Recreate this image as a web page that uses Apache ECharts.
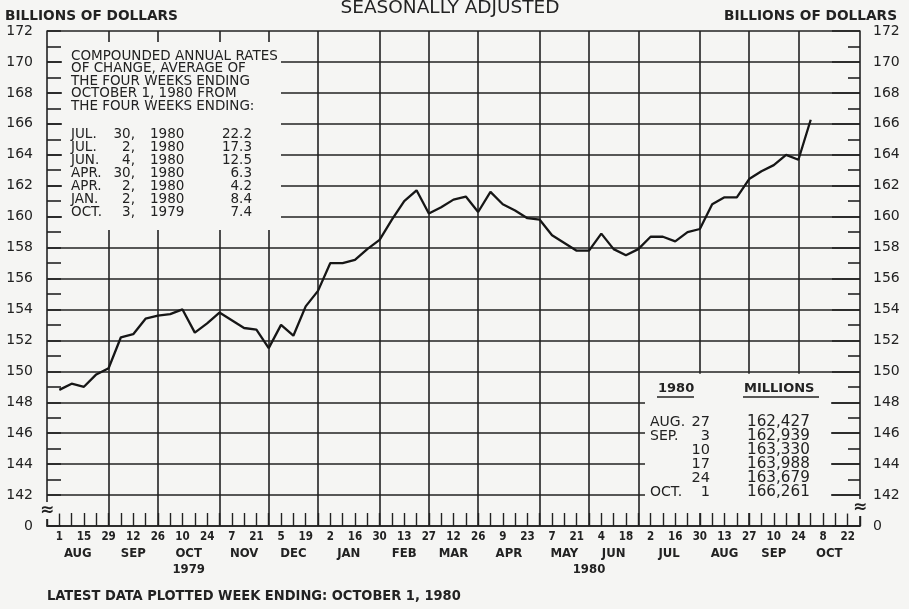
<!DOCTYPE html>
<html><head><meta charset="utf-8">
<script src="https://cdn.jsdelivr.net/npm/echarts@6/dist/echarts.min.js"></script>
<style>html,body{margin:0;padding:0;background:#f5f5f3}#c{width:909px;height:609px}</style>
</head><body><div id="c"></div>
<script>
// Weekly dates (weeks ending Wednesday), index 0 = left edge, 66 = right edge
const weeks = [
 '1979-07-25','1979-08-01','1979-08-08','1979-08-15','1979-08-22','1979-08-29',
 '1979-09-05','1979-09-12','1979-09-19','1979-09-26',
 '1979-10-03','1979-10-10','1979-10-17','1979-10-24','1979-10-31',
 '1979-11-07','1979-11-14','1979-11-21','1979-11-28',
 '1979-12-05','1979-12-12','1979-12-19','1979-12-26',
 '1980-01-02','1980-01-09','1980-01-16','1980-01-23','1980-01-30',
 '1980-02-06','1980-02-13','1980-02-20','1980-02-27',
 '1980-03-05','1980-03-12','1980-03-19','1980-03-26',
 '1980-04-02','1980-04-09','1980-04-16','1980-04-23','1980-04-30',
 '1980-05-07','1980-05-14','1980-05-21','1980-05-28',
 '1980-06-04','1980-06-11','1980-06-18','1980-06-25',
 '1980-07-02','1980-07-09','1980-07-16','1980-07-23','1980-07-30',
 '1980-08-06','1980-08-13','1980-08-20','1980-08-27',
 '1980-09-03','1980-09-10','1980-09-17','1980-09-24',
 '1980-10-01','1980-10-08','1980-10-15','1980-10-22','1980-10-29'
];
// Billions of dollars, weeks ending 1979-08-01 .. 1980-10-01
const moneyStock = [
 148.8,149.2,149.0,149.8,150.2,152.2,152.4,153.4,153.6,153.7,
 154.0,152.5,153.1,153.8,153.3,152.8,152.7,151.5,153.0,152.3,
 154.2,155.2,157.0,157.0,157.2,157.9,158.5,159.8,161.0,161.7,
 160.2,160.6,161.1,161.3,160.3,161.6,160.8,160.4,159.9,159.8,
 158.8,158.3,157.8,157.8,158.9,157.9,157.5,157.9,158.7,158.7,
 158.4,159.0,159.2,160.8,161.25,161.25,
 162.427,162.939,163.330,163.988,163.679,166.261
];
const monthEndIdx = [5,9,14,18,22,27,31,35,40,44,48,53,57,61];
const monthBounds = [0,5,9,14,18,22,27,31,35,40,44,48,53,57,61,66];
const monthNames = ['AUG','SEP','OCT','NOV','DEC','JAN','FEB','MAR','APR','MAY','JUN','JUL','AUG','SEP','OCT'];
const yearLabels = [['1979', 9, 14], ['1980', 44, 44]];
const yTicks = {min:140, max:172, step:2};

const rateHeader = ['COMPOUNDED ANNUAL RATES','OF CHANGE, AVERAGE OF','THE FOUR WEEKS ENDING','OCTOBER 1, 1980 FROM','THE FOUR WEEKS ENDING:'];
const rateMonths = ['JUL.','JUL.','JUN.','APR.','APR.','JAN.','OCT.'];
const rateDays = ['30,','2,','4,','30,','2,','2,','3,'];
const rateYears = ['1980','1980','1980','1980','1980','1980','1979'];
const rateValues = ['22.2','17.3','12.5','6.3','4.2','8.4','7.4'];

const tableMonths = ['AUG.','SEP.','','','','OCT.'];
const tableDays = ['27','3','10','17','24','1'];
const tableValues = ['162,427','162,939','163,330','163,988','163,679','166,261'];

const BG = '#f5f5f3';
const INK = '#222';
const F = '"DejaVu Sans", sans-serif';
const FC = '"DejaVu Sans Condensed", "DejaVu Sans", sans-serif';

const chart = echarts.init(document.getElementById('c'), null, {renderer:'canvas'});
const lineW = 1.6;
function yAxisCfg(pos, tickLen, minorLen, split) {
  return {
    type:'value', position:pos, min:yTicks.min, max:yTicks.max, interval:yTicks.step,
    axisLine:{show:true, lineStyle:{color:INK, width:lineW}},
    axisTick:{show:true, inside:true, length:tickLen, lineStyle:{color:INK, width:lineW}},
    minorTick:{show:true, splitNumber:2, length:minorLen, lineStyle:{color:INK, width:lineW}},
    minorSplitLine:{show:false},
    splitLine:{show:split, lineStyle:{color:INK, width:lineW}},
    axisLabel:{margin:pos==='left'?14:13, fontSize:14, fontFamily:F, color:INK,
      formatter:v => v === yTicks.min ? '0' : String(v)}
  };
}
const option = {
  backgroundColor: BG,
  animation:false,
  grid:{left:47, right:49, top:31, bottom:83, show:false},
  xAxis:[{
    type:'category', data:weeks, boundaryGap:false,
    axisLine:{show:true, lineStyle:{color:INK, width:lineW}},
    axisTick:{show:true, inside:true, length:13, interval:0, lineStyle:{color:INK, width:1.4}},
    axisLabel:{interval:(i) => i % 2 === 1, margin:5, fontSize:11.5, fontWeight:'bold', fontFamily:FC, color:INK,
      formatter:v => String(parseInt(v.slice(8), 10))},
    splitLine:{show:true, interval:(i) => monthEndIdx.indexOf(i) >= 0, lineStyle:{color:INK, width:lineW}}
  }],
  yAxis:[yAxisCfg('left', 14, 14, true), yAxisCfg('right', 28, 12, false)],
  series:[{
    type:'line', data:[null].concat(moneyStock), symbol:'none', z:3,
    lineStyle:{color:'#161616', width:2.3}
  }]
};
chart.setOption(option);

const px = i => chart.convertToPixel({xAxisIndex:0}, i);
const py = v => chart.convertToPixel({yAxisIndex:0}, v);
const x0 = px(0), x1 = px(66), yTop = py(172), yBot = py(140);

const g = [];
function txt(x, y, s, o) {
  g.push(Object.assign({type:'text', x:x, y:y, z:5, silent:true,
    style:Object.assign({text:s, fill:INK, font:'13.5px ' + F, textAlign:'left', textVerticalAlign:'middle'}, o || {})}));
}
function rect(x, y, w, h) {
  g.push({type:'rect', z:1, silent:true, shape:{x:x, y:y, width:w, height:h}, style:{fill:BG}});
}
// cut-out areas of grid
rect(x0 + 15, yTop + 11, 281 - (x0 + 15), 230 - (yTop + 11));
rect(645, py(150) + 2.5, (x1 - 29) - 645, (yBot - 13) - (py(150) + 2.5));
// break symbols
rect(x0 + 1, py(141) - 3, 15, 6);
rect(x1 - 14, py(141) - 3, 13.5, 6);
txt(x0, py(141), '\u2248', {font:'bold 17px ' + F, textAlign:'center', backgroundColor:BG});
txt(x1, py(141) - 3, '\u2248', {font:'bold 17px ' + F, textAlign:'center', backgroundColor:BG});

// titles
txt(450, 8, 'SEASONALLY ADJUSTED', {font:'18.5px ' + F, textAlign:'center'});
txt(5, 16, 'BILLIONS OF DOLLARS', {font:'bold 13.7px ' + F});
txt(897, 16, 'BILLIONS OF DOLLARS', {font:'bold 13.7px ' + F, textAlign:'right'});

// top-left box
rateHeader.forEach((s, i) => txt(71, 56 + i * 12.5, s));
rateMonths.forEach((s, i) => {
  const y = 134 + i * 13;
  txt(71, y, s);
  txt(135, y, rateDays[i], {textAlign:'right'});
  txt(150, y, rateYears[i]);
  txt(252, y, rateValues[i], {textAlign:'right'});
});

// lower-right table
txt(658, 389, '1980', {font:'bold 13px ' + F});
txt(744, 389, 'MILLIONS', {font:'bold 13px ' + F});
g.push({type:'line', z:5, silent:true, shape:{x1:657, y1:397, x2:694, y2:397}, style:{stroke:INK, lineWidth:1.3}});
g.push({type:'line', z:5, silent:true, shape:{x1:743, y1:397, x2:819, y2:397}, style:{stroke:INK, lineWidth:1.3}});
tableDays.forEach((s, i) => {
  const y = 422 + i * 14;
  if (tableMonths[i]) txt(650, y, tableMonths[i], {font:'14px ' + F});
  txt(710, y, s, {font:'14.5px ' + F, textAlign:'right'});
  txt(747, y, tableValues[i], {font:'15.2px ' + F});
});

// month + year labels
monthNames.forEach((m, i) => {
  const cx = (px(monthBounds[i]) + px(monthBounds[i + 1])) / 2;
  txt(cx, yBot + 28, m, {font:'bold 13px ' + FC, textAlign:'center'});
});
yearLabels.forEach(([s, a, b]) => {
  txt((px(a) + px(b)) / 2, yBot + 44, s, {font:'bold 13px ' + FC, textAlign:'center'});
});
txt(47, 596, 'LATEST DATA PLOTTED WEEK ENDING: OCTOBER 1, 1980', {font:'bold 14.5px ' + FC});

chart.setOption({graphic:{elements:g}});
</script></body></html>
